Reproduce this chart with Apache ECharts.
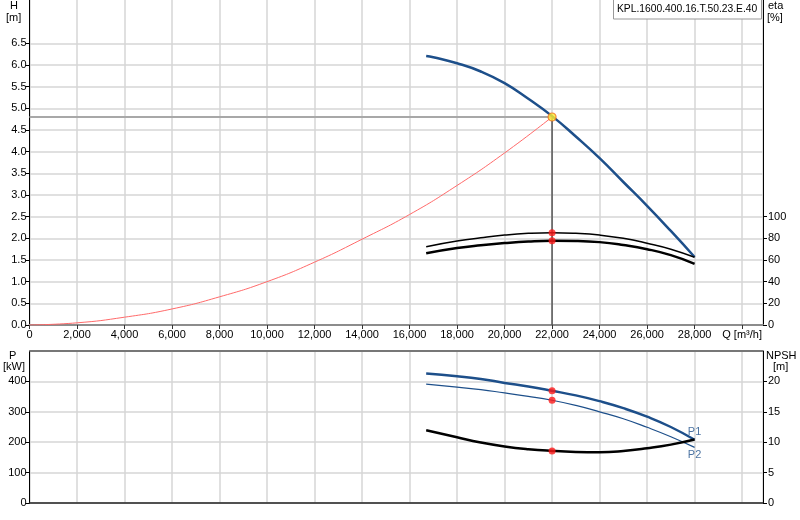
<!DOCTYPE html>
<html>
<head>
<meta http-equiv="Content-Type" content="text/html; charset=UTF-8">
<title>KPL pump curve</title>
<script src="https://cdn.jsdelivr.net/npm/echarts@6/dist/echarts.min.js"></script>
<style>
    html, body { margin: 0; padding: 0; background: #fff; }
</style>
</head>
<body>
<div id="pump" style="width: 800px; height: 520px;"></div>
<script type="text/javascript">
    // flow Q [m3/h] and the curve values
    var qPump   = [16700, 17000, 18000, 19000, 20000, 21000, 22000, 23000, 24000, 25000, 26000, 27000, 28000];
    var headH   = [6.21, 6.18, 6.04, 5.85, 5.58, 5.22, 4.82, 4.35, 3.85, 3.30, 2.75, 2.17, 1.57];

    var qSystem = [0, 2000, 4000, 6000, 8000, 10000, 12000, 14000, 16000, 18000, 20000, 22000];
    var headSys = [0, 0.05, 0.18, 0.37, 0.65, 1.0, 1.45, 1.98, 2.55, 3.22, 3.97, 4.8];

    var qCurve  = [16700, 18000, 19000, 20000, 21000, 22000, 23000, 24000, 25000, 26000, 27000, 28000];
    var etaHyd  = [72.3, 77.5, 80.5, 83.0, 84.6, 85.2, 84.6, 83.0, 80.0, 75.5, 70.0, 62.5];
    var etaTot  = [66.2, 71.0, 73.6, 75.6, 77.1, 77.8, 77.6, 76.5, 73.8, 70.0, 64.5, 56.5];
    var powerP1 = [425.6, 417, 408, 395, 383, 369, 354, 335, 312, 284, 250, 208];
    var powerP2 = [391, 381, 373, 362, 351, 338, 321, 300, 277, 249, 218, 183];
    var npsh    = [11.97, 10.8, 9.95, 9.3, 8.85, 8.57, 8.4, 8.35, 8.55, 9.0, 9.6, 10.44];

    var duty = { q: 22000, h: 4.8, eta: [85.2, 77.8], p: [369, 338], npsh: 8.57 };

    var hTicks    = [0, 0.5, 1, 1.5, 2, 2.5, 3, 3.5, 4, 4.5, 5, 5.5, 6, 6.5];
    var etaTicks  = [0, 20, 40, 60, 80, 100];
    var pTicks    = [0, 100, 200, 300, 400];
    var npshTicks = [0, 5, 10, 15, 20];

    var pumpName = 'KPL.1600.400.16.T.50.23.E.40';

    function pairs(xs, ys) {
        var out = [];
        for (var i = 0; i < xs.length; i++) out.push([xs[i], ys[i]]);
        return out;
    }

    var blue = '#1d4f8a';
    var font = 'Liberation Sans, Arial, sans-serif';
    var gridLine = { show: true, lineStyle: { color: '#d6d6d6', width: 1.5 } };
    var labelStyle = { color: '#000', fontFamily: font, fontSize: 11 };

    var myChart = echarts.init(document.getElementById('pump'));
    myChart.setOption({
        animation: false,
        backgroundColor: '#fff',
        grid: [
            { left: 29.5, right: 37, top: 0, height: 325, show: false },
            { left: 29.5, right: 37, top: 351, height: 152, show: false }
        ],
        xAxis: [ {
            gridIndex: 0, type: 'value', min: 0, max: 30880, interval: 2000,
            axisLine: { show: true, onZero: false, lineStyle: { color: '#8c8c8c', width: 2 } },
            axisTick: { show: true, length: 4, lineStyle: { color: '#333' } },
            axisLabel: Object.assign({}, labelStyle, {
                margin: 4, showMaxLabel: false,
                formatter: function (v) {
                    if (v === 30000) return 'Q [m³/h]';
                    if (v % 2000 !== 0) return '';
                    return v.toLocaleString('en-US');
                }
            }),
            splitLine: gridLine
        }, {
            gridIndex: 1, type: 'value', min: 0, max: 30880, interval: 2000,
            axisLine: { show: true, onZero: false, lineStyle: { color: '#222', width: 1.5 } },
            axisTick: { show: false },
            axisLabel: { show: false },
            splitLine: gridLine
        } ],
        yAxis: [ {
            gridIndex: 0, type: 'value', min: 0, max: 7.5, interval: 0.5, position: 'left',
            axisLine: { show: true, onZero: false, lineStyle: { color: '#000' } },
            axisTick: { show: true, length: 4, customValues: hTicks, lineStyle: { color: '#000' } },
            axisLabel: Object.assign({}, labelStyle, {
                margin: 3, customValues: hTicks,
                formatter: function (v) { return v.toFixed(1); }
            }),
            splitLine: gridLine
        }, {
            gridIndex: 0, type: 'value', min: 0, max: 300, interval: 20, position: 'right',
            axisLine: { show: true, onZero: false, lineStyle: { color: '#000' } },
            axisTick: { show: true, length: 4, customValues: etaTicks, lineStyle: { color: '#000' } },
            axisLabel: Object.assign({}, labelStyle, { margin: 5, customValues: etaTicks }),
            splitLine: { show: false }
        }, {
            gridIndex: 1, type: 'value', min: 0, max: 500, interval: 100, position: 'left',
            axisLine: { show: true, onZero: false, lineStyle: { color: '#000' } },
            axisTick: { show: true, length: 4, customValues: pTicks, lineStyle: { color: '#000' } },
            axisLabel: Object.assign({}, labelStyle, { margin: 3, customValues: pTicks }),
            splitLine: gridLine
        }, {
            gridIndex: 1, type: 'value', min: 0, max: 25, interval: 5, position: 'right',
            axisLine: { show: true, onZero: false, lineStyle: { color: '#000' } },
            axisTick: { show: true, length: 4, customValues: npshTicks, lineStyle: { color: '#000' } },
            axisLabel: Object.assign({}, labelStyle, { margin: 5, customValues: npshTicks }),
            splitLine: { show: false }
        } ],
        graphic: [
            { type: 'line', z: 5, shape: { x1: 29.5, y1: 351, x2: 763, y2: 351 }, style: { stroke: '#777', lineWidth: 2 } },
            { type: 'text', left: 10, top: 0, style: { text: 'H', font: '11px ' + font, fill: '#000' } },
            { type: 'text', left: 6, top: 12, style: { text: '[m]', font: '11px ' + font, fill: '#000' } },
            { type: 'text', left: 768, top: 0, style: { text: 'eta', font: '11px ' + font, fill: '#000' } },
            { type: 'text', left: 767, top: 12, style: { text: '[%]', font: '11px ' + font, fill: '#000' } },
            { type: 'text', left: 9, top: 350, style: { text: 'P', font: '11px ' + font, fill: '#000' } },
            { type: 'text', left: 3, top: 361, style: { text: '[kW]', font: '11px ' + font, fill: '#000' } },
            { type: 'text', left: 766, top: 350, style: { text: 'NPSH', font: '11px ' + font, fill: '#000' } },
            { type: 'text', left: 773, top: 361, style: { text: '[m]', font: '11px ' + font, fill: '#000' } },
            { type: 'rect', z: 10, shape: { x: 613.5, y: -1, width: 148, height: 20 },
              style: { fill: '#fff', stroke: '#999', lineWidth: 1 } },
            { type: 'text', z: 11, left: 617, top: 4, style: { text: pumpName, font: '10.3px ' + font, fill: '#000' } }
        ],
        series: [ {
            name: 'duty H', type: 'line', xAxisIndex: 0, yAxisIndex: 0, silent: true,
            data: [[0, duty.h], [duty.q, duty.h]], showSymbol: false,
            lineStyle: { color: '#a8a8a8', width: 2 }
        }, {
            name: 'duty Q', type: 'line', xAxisIndex: 0, yAxisIndex: 0, silent: true,
            data: [[duty.q, duty.h], [duty.q, 0]], showSymbol: false,
            lineStyle: { color: '#555', width: 1.5 }
        }, {
            name: 'system', type: 'line', xAxisIndex: 0, yAxisIndex: 0, smooth: true,
            data: pairs(qSystem, headSys), showSymbol: false,
            lineStyle: { color: '#ff6a6a', width: 1 }
        }, {
            name: 'H', type: 'line', xAxisIndex: 0, yAxisIndex: 0, smooth: true,
            data: pairs(qPump, headH), showSymbol: false,
            lineStyle: { color: blue, width: 2.5 }
        }, {
            name: 'eta hyd', type: 'line', xAxisIndex: 0, yAxisIndex: 1, smooth: true,
            data: pairs(qCurve, etaHyd), showSymbol: false,
            lineStyle: { color: '#000', width: 1.5 }
        }, {
            name: 'eta tot', type: 'line', xAxisIndex: 0, yAxisIndex: 1, smooth: true,
            data: pairs(qCurve, etaTot), showSymbol: false,
            lineStyle: { color: '#000', width: 2.5 }
        }, {
            name: 'P1', type: 'line', xAxisIndex: 1, yAxisIndex: 2, smooth: true,
            data: pairs(qCurve, powerP1), showSymbol: false,
            lineStyle: { color: blue, width: 2.5 }
        }, {
            name: 'P2', type: 'line', xAxisIndex: 1, yAxisIndex: 2, smooth: true,
            data: pairs(qCurve, powerP2), showSymbol: false,
            lineStyle: { color: blue, width: 1.2 }
        }, {
            name: 'NPSH', type: 'line', xAxisIndex: 1, yAxisIndex: 3, smooth: true,
            data: pairs(qCurve, npsh), showSymbol: false,
            lineStyle: { color: '#000', width: 2.5 }
        }, {
            name: 'P labels', type: 'scatter', xAxisIndex: 1, yAxisIndex: 2,
            symbolSize: 1, itemStyle: { color: 'rgba(0,0,0,0)' },
            data: [
                { value: [qCurve[qCurve.length - 1], powerP1[powerP1.length - 1]],
                  label: { show: true, formatter: 'P1', position: 'top', distance: 2 } },
                { value: [qCurve[qCurve.length - 1], powerP2[powerP2.length - 1]],
                  label: { show: true, formatter: 'P2', position: 'bottom', distance: 2 } }
            ],
            label: { color: blue, fontFamily: font, fontSize: 11 }
        }, {
            name: 'duty eta', type: 'scatter', xAxisIndex: 0, yAxisIndex: 1, z: 5,
            data: [[duty.q, duty.eta[0]], [duty.q, duty.eta[1]]],
            symbolSize: 7, itemStyle: { color: '#ff1a1a' }
        }, {
            name: 'duty P', type: 'scatter', xAxisIndex: 1, yAxisIndex: 2, z: 5,
            data: [[duty.q, duty.p[0]], [duty.q, duty.p[1]]],
            symbolSize: 7, itemStyle: { color: '#ff1a1a' }
        }, {
            name: 'duty NPSH', type: 'scatter', xAxisIndex: 1, yAxisIndex: 3, z: 5,
            data: [[duty.q, duty.npsh]],
            symbolSize: 7, itemStyle: { color: '#ff1a1a' }
        }, {
            name: 'duty point', type: 'scatter', xAxisIndex: 0, yAxisIndex: 0, z: 6,
            data: [[duty.q, duty.h]],
            symbolSize: 8, itemStyle: { color: '#ffee33', borderColor: '#f07020', borderWidth: 1.2 }
        } ]
    });
</script>
</body>
</html>
